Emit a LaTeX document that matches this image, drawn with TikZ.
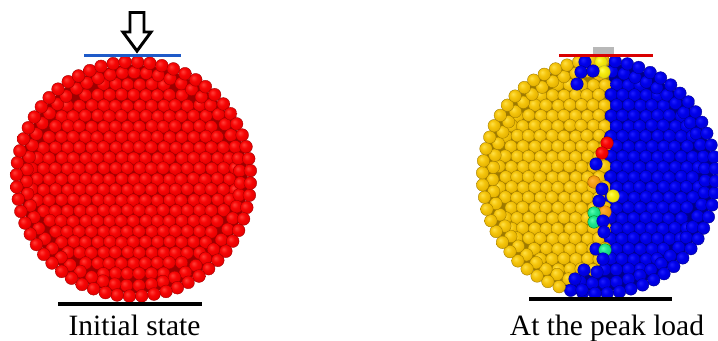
\documentclass[tikz,border=0pt]{standalone}
\usepackage{fontspec}
\setmainfont{Liberation Serif}
\pgfdeclareradialshading{rb}{\pgfpoint{-9bp}{9bp}}{rgb(0bp)=(1,.25,.22);rgb(14bp)=(.97,.02,.02);rgb(30bp)=(.88,0,0);rgb(46bp)=(.55,0,0);rgb(60bp)=(.42,0,0)}
\pgfdeclareradialshading{yb}{\pgfpoint{-9bp}{9bp}}{rgb(0bp)=(1,.88,.28);rgb(14bp)=(.96,.77,.04);rgb(30bp)=(.88,.68,0);rgb(46bp)=(.62,.46,0);rgb(60bp)=(.48,.34,0)}
\pgfdeclareradialshading{bb}{\pgfpoint{-9bp}{9bp}}{rgb(0bp)=(.12,.12,1);rgb(14bp)=(0,0,.92);rgb(30bp)=(0,0,.82);rgb(46bp)=(0,0,.52);rgb(60bp)=(0,0,.38)}
\pgfdeclareradialshading{lb}{\pgfpoint{-9bp}{9bp}}{rgb(0bp)=(1,1,.35);rgb(14bp)=(.96,.92,.05);rgb(34bp)=(.86,.80,0);rgb(50bp)=(.58,.52,0)}
\pgfdeclareradialshading{gb}{\pgfpoint{-9bp}{9bp}}{rgb(0bp)=(.35,1,.70);rgb(14bp)=(.12,.90,.55);rgb(34bp)=(.05,.78,.48);rgb(50bp)=(.02,.50,.30)}
\pgfdeclareradialshading{ob}{\pgfpoint{-9bp}{9bp}}{rgb(0bp)=(1,.70,.25);rgb(14bp)=(.96,.62,.08);rgb(34bp)=(.88,.52,0);rgb(50bp)=(.60,.34,0)}
\colorlet{rbe}{red!62!black}
\definecolor{ybe}{rgb}{.62,.48,0}
\colorlet{bbe}{blue!55!black}
\colorlet{lbe}{yellow!62!black}
\colorlet{gbe}{green!50!black}
\colorlet{obe}{orange!62!black}
\newcommand\ball[3]{\shadedraw[shading=#3,draw=#3e,line width=.35pt] (#1,#2) circle[radius=\ballr];}
\newcommand\ballr{6.4}
\newif\ifrightdisc
\newcommand\pickball[2]{%
  \ifrightdisc
    \pgfmathparse{(#1)<((#2)<250?609:((#2)<268?603:603-((#2)-268)*2.2))?1:0}%
    \ifnum\pgfmathresult=1 \ball{#1}{#2}{yb}\else\ball{#1}{#2}{bb}\fi
  \else
    \ball{#1}{#2}{rb}%
  \fi}
\newcommand\ringof[4]{% cx, cy, radius, count
  \foreach \k in {1,...,#4}{%
    \pgfmathsetmacro\ax{#1+(#3)*cos(360/#4*\k+2)+0.25*rand}%
    \pgfmathsetmacro\ay{#2+(#3)*sin(360/#4*\k+2)+0.25*rand}%
    \pickball{\ax}{\ay}}}
% centre x, centre y, outer ring radius, spacing
\newcommand\disc[4]{%
  \foreach \j in {-11,...,11}{%
    \foreach \i in {-11,...,11}{%
      \pgfmathsetmacro\ax{\i*#4+mod(abs(\j),2)*#4/2+0.5*rand}%
      \pgfmathsetmacro\ay{\j*#4*0.875+0.5*rand}%
      \pgfmathparse{veclen(\ax,\ay)<(#3-14)?1:0}%
      \ifnum\pgfmathresult=1
        \pgfmathsetmacro\bx{#1+\ax}\pgfmathsetmacro\by{#2+\ay}%
        \pickball{\bx}{\by}%
      \fi}}%
  \ringof{#1}{#2}{#3-10.2}{55}%
  \ringof{#1}{#2}{#3}{60}}
\tikzset{
  platen/.style={line width=3.2pt},
  stub/.style={fill=black!28,draw=none},
  caption/.style={font=\fontsize{29.6}{32}\selectfont,anchor=base,inner sep=0pt,text=black}
}
\begin{document}
\begin{tikzpicture}[x=1bp,y=-1bp]
\useasboundingbox (0,0) rectangle (718,340);
\clip (0,0) rectangle (718,340);
\pgfmathsetseed{11}
% left specimen
\fill[rbe] (133.5,179) circle[radius=114];
\disc{133.5}{179}{117}{12}
\draw[platen,draw=black] (58,304) -- (202,304);
\draw[platen,draw={rgb,255:red,30;green,90;blue,200}] (84,55.5) -- (181,55.5);
\draw[line width=3pt,draw=black,fill=white,line join=miter]
  (130,12.5) -- (144,12.5) -- (144,32) -- (151,32) -- (137,51) -- (123,32) -- (130,32) -- cycle;
% right specimen
\fill[stub] (593,47) rectangle (614,56);
\fill[stub] (594,288) rectangle (606,299);
\renewcommand\ballr{6.3}
\rightdisctrue
\fill[bbe] (599,177) circle[radius=114];
\begin{scope}
\clip (470,50) -- (609,50) -- (609,250) -- (603,250) -- (603,268) -- (565,285) -- (470,285) -- cycle;
\fill[ybe] (599,177) circle[radius=114];
\end{scope}
\disc{599}{177}{116.5}{11.7}
% crack-zone particles
\ball{601}{62}{lb}\ball{604}{72}{lb}
\ball{585}{62}{bb}\ball{581}{72}{bb}\ball{593}{71}{bb}\ball{577}{84}{bb}
\ball{607}{143}{rb}\ball{602}{153}{rb}\ball{596}{164}{bb}
\ball{594}{182}{ob}\ball{605}{212}{ob}
\ball{613}{196}{lb}\ball{602}{189}{bb}\ball{599}{201}{bb}
\ball{594}{213}{gb}\ball{594}{222}{gb}
\ball{603}{221}{bb}\ball{604}{232}{bb}\ball{596}{249}{bb}
\ball{605}{250}{gb}\ball{603}{259}{bb}
\ball{584}{270}{bb}\ball{575}{279}{bb}\ball{582}{290}{bb}\ball{597}{272}{bb}
\draw[platen,draw=red!85!black] (559,55.5) -- (653,55.5);
\draw[platen,draw=black] (529,299) -- (672,299);
% captions
\node[caption] (leftcap) at (134.5,335) {Initial state};
\node[caption] (rightcap) at (607,335) {At the peak load};
\end{tikzpicture}
\end{document}
